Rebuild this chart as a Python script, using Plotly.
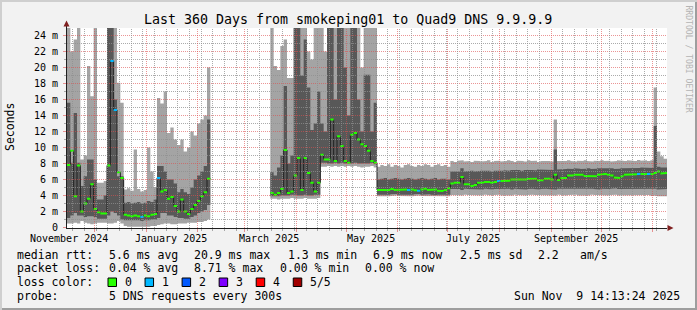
import math
import pandas as pd
import plotly.graph_objects as go

# ---------------- time frame ----------------
START = pd.Timestamp("2024-11-14 14:13:24")
END = pd.Timestamp("2025-11-09 14:13:24")
SLOT_DAYS = 2  # each value below covers 2 days

# ---------------- data (milliseconds) ----------------
# Region 1: Nov 2024 - Feb 2025 (slots 0..42)
R1_FIRST = 0
r1_min = [0.5, 0.5, 0.6, 0.5, 0.8, 0.6, 0.5, 0.4, 0.5, 0.6,
          0.6, 0.6, 0.5, 0.5, 0.6, 0.8, 0.5, 0.2, 0.1, 0.1,
          0.1, 0.1, 0.1, 0.1, 0.1, 0.2, 0.2, 0.3, 0.4, 0.5,
          0.5, 0.4, 0.4, 0.5, 0.5, 0.5, 0.6, 0.6, 0.6, 0.7,
          0.7, 0.8, 1.0]
r1_p2 = [1.2, 1.5, 1.8, 1.5, 1.5, 1.3, 1.4, 1.4, 1.3, 1.1,
         1.1, 1.1, 1.5, 2.0, 1.8, 1.5, 1.0, 0.9, 0.9, 0.9,
         0.9, 0.9, 0.8, 0.9, 0.9, 1.0, 1.0, 1.2, 1.8, 1.8,
         1.5, 1.5, 1.3, 1.2, 1.2, 1.1, 1.1, 1.3, 1.5, 1.8,
         2.0, 2.2, 2.8]
r1_p4 = [15.6, 8.1, 14.3, 8.1, 5.2, 6.4, 8.5, 8.5, 6.0, 3.5,
         3.5, 4.0, 26, 26, 16.0, 6.4, 6.4, 3.1, 3.2, 3.0,
         3.1, 3.2, 3.0, 3.1, 3.3, 3.2, 3.5, 7.7, 7.7, 7.0,
         6.0, 6.0, 5.5, 4.4, 4.8, 4.4, 4.2, 5.0, 6.0, 6.5,
         7.0, 7.7, 13.5]
r1_max = [26, 22.0, 23.5, 26, 8.5, 9.0, 20.2, 16.4, 26, 5.6,
          5.6, 5.8, 26, 26, 26, 18.1, 15.6, 4.75, 4.9, 4.6,
          9.75, 4.8, 4.5, 4.7, 10.0, 7.0, 5.0, 16.2, 15.5, 17.0,
          11.8, 12.5, 11.0, 10.3, 11.0, 9.5, 10.0, 12.0, 11.5, 13.0,
          13.5, 14.0, 20.0]
r1_med = [7.8, 9.6, 3.9, 7.75, 2.0, 3.0, 3.6, 5.4, 2.3, 1.9,
          1.75, 1.75, 7.75, 20.8, 14.7, 6.9, 6.2, 1.6, 1.5, 1.4,
          1.5, 1.4, 1.3, 1.5, 1.4, 1.6, 1.7, 6.2, 4.5, 4.7,
          3.6, 3.8, 2.7, 2.0, 3.5, 2.0, 1.7, 2.3, 2.8, 3.3,
          3.9, 4.4, 6.1]
r1_loss = [0, 0, 0, 0, 0, 0, 0, 0, 0, 0,
           0, 0, 0, 1, 1, 0, 0, 0, 0, 0,
           0, 0, 1, 0, 0, 0, 0, 1, 0, 0,
           0, 0, 0, 0, 0, 0, 0, 0, 0, 0,
           0, 0, 0]

# Region 2a: mid Mar - early May 2025 (slots 61..92)
spring_min = [3.6, 3.6, 3.5, 3.6, 3.6, 3.6, 3.7, 3.6, 3.6, 3.6,
              3.7, 3.6, 3.6, 3.6, 3.7, 7.6, 7.6, 7.7, 7.6, 7.7,
              7.6, 7.7, 7.6, 7.7, 7.6, 7.7, 7.6, 7.5, 7.6, 7.6,
              7.7, 7.5]
spring_p2 = [3.9, 3.9, 3.9, 4.0, 4.0, 4.0, 4.1, 4.1, 4.0, 4.0,
             4.1, 4.0, 4.0, 4.1, 4.1, 8.1, 8.1, 8.0, 8.0, 8.1,
             8.0, 8.1, 8.0, 8.1, 8.0, 8.1, 8.0, 8.0, 8.0, 8.0,
             8.1, 7.9]
spring_p4 = [6.9, 6.5, 7.5, 9.0, 17.7, 8.0, 9.0, 26, 26, 19.0,
             23.5, 17.5, 12.2, 13.0, 17.0, 13.0, 12.0, 26, 26, 16.0,
             26, 26, 20.0, 14.0, 26, 26, 16.0, 12.0, 19.1, 19.1,
             12.0, 15.6]
spring_max = [26, 20.2, 19.7, 22.7, 23.5, 18.7, 18.7, 26, 26, 26,
              26, 22.0, 21.0, 26, 26, 26, 22.0, 26, 26, 26,
              26, 26, 26, 26, 26, 26, 26, 20.0, 26, 26,
              26, 26]
spring_med = [4.3, 4.1, 4.3, 4.8, 9.7, 4.3, 4.5, 6.5, 8.7, 4.7,
              8.7, 6.8, 5.6, 4.5, 5.6, 9.1, 8.5, 8.5, 13.5, 8.3,
              11.4, 10.2, 8.3, 8.1, 11.6, 11.8, 11.0, 10.4, 10.2, 9.6,
              8.3, 8.1]
spring_loss = [0, 0, 0, 0, 0, 0, 0, 0, 0, 0,
               0, 0, 0, 0, 0, 0, 0, 0, 0, 0,
               0, 0, 0, 0, 0, 0, 0, 0, 0, 0,
               0, 0]

# Region 2b: May - Jun 2025 (slots 93..114)
early_min = [3.9, 3.95, 3.95, 3.9, 3.95, 4.0, 3.95, 3.9, 3.95, 3.95,
             3.9, 3.95, 4.0, 3.95, 3.9, 3.95, 3.95, 3.9, 3.95, 3.9,
             3.95, 3.9]
early_p2 = [4.1, 4.15, 4.1, 4.1, 4.15, 4.2, 4.1, 4.1, 4.15, 4.1,
            4.1, 4.15, 4.2, 4.1, 4.1, 4.15, 4.1, 4.05, 4.1, 4.1,
            4.15, 4.1]
early_p4 = [6.0, 6.1, 6.2, 6.0, 6.1, 6.2, 6.1, 6.0, 6.1, 6.2,
            6.1, 6.0, 6.1, 6.2, 6.1, 6.0, 6.1, 6.2, 6.0, 6.1,
            6.1, 6.0]
early_max = [7.6, 7.8, 7.7, 7.9, 7.6, 7.8, 7.7, 7.5, 7.8, 7.9,
             7.7, 7.6, 7.8, 7.7, 7.9, 7.8, 7.6, 7.8, 7.9, 7.7,
             7.8, 7.6]
early_med = [4.7, 4.75, 4.7, 4.7, 4.8, 4.7, 4.75, 4.7, 4.75, 4.7,
             4.75, 4.65, 4.6, 4.75, 4.85, 4.7, 4.7, 4.75, 4.6, 4.55,
             4.7, 4.9]
early_loss = [0, 0, 0, 0, 0, 0, 0, 0, 0, 1,
              0, 0, 1, 0, 0, 0, 0, 0, 0, 0,
              0, 0]

# Region 2c: Jul - Nov 2025 (slots 115..179)
late_min = [4.05, 4.0, 4.05, 4.0, 4.1, 4.05, 4.0, 4.05, 4.05, 4.0,
            4.1, 4.05, 4.0, 4.05, 4.1, 4.0, 4.05, 4.05, 4.0, 4.1,
            4.05, 4.05, 4.0, 4.05, 4.1, 4.05, 4.0, 4.05, 4.05, 4.0,
            4.05, 4.0, 4.1, 4.05, 4.0, 4.05, 4.05, 4.1, 4.0, 4.05,
            4.05, 4.0, 4.1, 4.05, 4.0, 4.05, 4.05, 4.0, 4.05, 4.1,
            4.0, 4.05, 4.05, 4.0, 4.05, 4.0, 4.05, 4.05, 4.0, 4.05,
            3.95, 4.0, 3.9, 3.95, 3.9]
late_p2 = [4.8, 4.75, 4.8, 4.7, 4.85, 4.8, 4.75, 4.8, 4.8, 4.75,
           4.85, 4.8, 4.75, 4.8, 4.85, 4.8, 4.8, 4.85, 4.75, 4.85,
           4.8, 4.8, 4.75, 4.8, 4.85, 4.8, 4.75, 4.8, 4.85, 4.8,
           4.8, 4.75, 4.85, 4.8, 4.8, 4.85, 4.8, 4.85, 4.8, 4.8,
           4.85, 4.8, 4.85, 4.8, 4.75, 4.85, 4.8, 4.8, 4.85, 4.9,
           4.8, 4.85, 4.85, 4.8, 4.85, 4.8, 4.85, 4.85, 4.8, 4.85,
           4.8, 4.85, 4.75, 4.8, 4.8]
late_p4 = [7.0, 7.05, 7.0, 7.4, 7.0, 7.05, 7.1, 7.0, 7.05, 7.1,
           7.05, 7.1, 7.0, 7.1, 7.05, 7.1, 7.15, 7.1, 7.2, 7.15,
           7.2, 7.1, 7.2, 7.25, 7.2, 7.15, 7.25, 7.2, 7.2, 7.25,
           7.2, 9.75, 7.25, 7.3, 7.3, 7.35, 7.3, 7.4, 7.35, 7.3,
           7.35, 7.4, 7.3, 7.35, 7.4, 7.35, 7.4, 7.35, 7.4, 7.3,
           7.35, 7.4, 7.45, 7.4, 7.45, 7.4, 7.45, 7.5, 7.45, 7.5,
           7.45, 12.7, 7.6, 7.5, 7.5]
late_max = [8.3, 8.2, 8.35, 8.4, 8.25, 8.3, 8.2, 8.35, 8.3, 8.25,
            8.3, 8.4, 8.2, 8.3, 8.35, 8.25, 8.3, 8.4, 8.3, 8.2,
            8.35, 8.3, 8.25, 8.4, 8.3, 8.35, 8.2, 8.3, 8.35, 8.3,
            8.25, 13.5, 8.3, 8.35, 8.3, 8.4, 8.3, 8.25, 8.35, 8.3,
            8.4, 8.3, 8.25, 8.35, 8.3, 8.4, 8.3, 8.35, 8.25, 8.3,
            8.4, 8.35, 8.3, 8.4, 8.35, 8.3, 8.45, 8.35, 8.4, 8.3,
            8.4, 17.5, 9.5, 8.9, 8.6]
late_med = [5.5, 5.6, 5.6, 6.3, 5.4, 5.4, 5.2, 5.3, 5.6, 5.6,
            5.7, 5.7, 5.6, 5.7, 5.8, 5.8, 5.8, 5.85, 6.0, 5.95,
            5.95, 6.0, 6.0, 6.05, 6.1, 6.1, 5.9, 5.9, 6.1, 6.1,
            6.0, 6.6, 5.95, 6.2, 6.2, 6.5, 6.5, 6.6, 6.6, 6.6,
            6.45, 6.4, 6.4, 6.4, 6.6, 6.65, 6.7, 6.6, 6.5, 6.25,
            6.2, 6.4, 6.6, 6.65, 6.65, 6.65, 6.7, 6.7, 6.7, 6.7,
            6.7, 6.8, 7.0, 6.75, 6.8]
late_loss = [0, 0, 0, 0, 0, 0, 0, 0, 0, 0,
             0, 0, 0, 0, 1, 0, 0, 0, 0, 0,
             0, 0, 0, 0, 0, 0, 0, 0, 0, 0,
             0, 0, 0, 0, 0, 0, 0, 0, 0, 0,
             0, 0, 0, 0, 0, 0, 0, 0, 0, 0,
             0, 0, 0, 0, 0, 0, 1, 0, 0, 1,
             0, 0, 0, 0, 0]

R2_FIRST = 61

# ---------------- labels ----------------
TITLE = "Last 360 Days from smokeping01 to Quad9 DNS 9.9.9.9"
Y_TICKS = list(range(0, 25, 2))
Y_TICK_TEXT = ["0"] + [f"{v} m" for v in range(2, 25, 2)]
X_LABEL_MONTHS = ["2024-11-01", "2025-01-01", "2025-03-01", "2025-05-01", "2025-07-01", "2025-09-01"]
X_LABEL_TEXT = ["November 2024", "January 2025", "March 2025", "May 2025", "July 2025", "September 2025"]
LOSS_COLORS = ["#26ff00", "#00b8ff", "#0059ff", "#7e00ff", "#ff0000", "#a10000"]
LOSS_LABELS = ["0", "1", "2", "3", "4", "5/5"]

STATS_RTT = ["5.6 ms avg", "20.9 ms max", "1.3 ms min", "6.9 ms now", "2.5 ms sd", "2.2", "am/s"]
STATS_LOSS = ["0.04 % avg", "8.71 % max", "0.00 % min", "0.00 % now"]
PROBE = "5 DNS requests every 300s"
STAMP = "Sun Nov  9 14:13:24 2025"

# ---------------- geometry / style ----------------
W, H = 697, 310
L, T, PW, PH = 67, 28, 600, 200
YMAX = 25.0
Y_OFF = YMAX / PH / 2.0
FONT = "DejaVu Sans Mono"
BG = "#f2f2f2"
GRID_C = "rgba(143,143,143,0.75)"
MGRID_C = "rgba(222,79,79,0.6)"
ARROW_C = "#802020"
AXIS_C = "#1f1f1f"
SMOKE_LIGHT = "#a4a4a4"
SMOKE_DARK = "#585858"
MED_LINE = "#202020"
SWIDTH = YMAX / PH  # 1 px


def px(x):
    return (x - L) / PW


def py(y):
    return (T + PH - y) / PH


SPAN = END - START


def ts(t):
    return t.strftime("%Y-%m-%d %H:%M:%S.%f")[:-3]


def slot_t(i):
    return START + pd.Timedelta(days=SLOT_DAYS * i)


def snap(t):
    p = L + PW * ((t - START) / SPAN)
    p = math.floor(p) + 0.5
    return START + SPAN * ((p - L) / PW)


regions = [
    dict(first=R1_FIRST, mn=r1_min, p2=r1_p2, p4=r1_p4, mx=r1_max, med=r1_med, loss=r1_loss),
    dict(first=R2_FIRST,
         mn=spring_min + early_min + late_min,
         p2=spring_p2 + early_p2 + late_p2,
         p4=spring_p4 + early_p4 + late_p4,
         mx=spring_max + early_max + late_max,
         med=spring_med + early_med + late_med,
         loss=spring_loss + early_loss + late_loss),
]
for r in regions:
    n = len(r["mn"])
    for key in ("p2", "p4", "mx", "med", "loss"):
        assert len(r[key]) == n, (key, len(r[key]), n)


def ribbon(first, ks, lo, hi):
    xs, ys = [], []
    for k in ks:
        xs += [ts(slot_t(first + k)), ts(slot_t(first + k + 1))]
        ys += [hi[k], hi[k]]
    for k in reversed(ks):
        xs += [ts(slot_t(first + k + 1)), ts(slot_t(first + k))]
        ys += [lo[k], lo[k]]
    return xs + [None], ys + [None]


def consecutive(ks):
    out, cur = [], []
    for k in ks:
        if cur and k != cur[-1] + 1:
            out.append(cur)
            cur = []
        cur.append(k)
    if cur:
        out.append(cur)
    return out


fig = go.Figure()


def add_fill(xs, ys, color):
    fig.add_trace(go.Scatter(x=xs, y=ys, mode="lines", fill="toself", fillcolor=color,
                             line=dict(width=0), hoverinfo="skip", showlegend=False))


# smoke
for lo_key, hi_key, col in (("mn", "mx", SMOKE_LIGHT), ("p2", "p4", SMOKE_DARK)):
    X, Y = [], []
    for r in regions:
        xs, ys = ribbon(r["first"], list(range(len(r["mn"]))), r[lo_key], r[hi_key])
        X += xs
        Y += ys
    add_fill(X, Y, col)

# median line
X, Y = [], []
for r in regions:
    for k, m in enumerate(r["med"]):
        X += [ts(slot_t(r["first"] + k)), ts(slot_t(r["first"] + k + 1))]
        Y += [m, m]
    X.append(None)
    Y.append(None)
fig.add_trace(go.Scatter(x=X, y=Y, mode="lines", line=dict(color=MED_LINE, width=1),
                         connectgaps=False, hoverinfo="skip", showlegend=False))

# loss coloured median bars
for c, col in enumerate(LOSS_COLORS):
    X, Y = [], []
    for r in regions:
        ks = [k for k, l in enumerate(r["loss"]) if l == c]
        lo = [m - SWIDTH for m in r["med"]]
        hi = [m + SWIDTH for m in r["med"]]
        for run in consecutive(ks):
            xs, ys = ribbon(r["first"], run, lo, hi)
            X += xs
            Y += ys
    if X:
        add_fill(X, Y, col)

shapes = []
# horizontal grid
for v in range(1, 25):
    shapes.append(dict(type="line", xref="paper", yref="y", x0=0, x1=1, y0=v, y1=v,
                       line=dict(color=MGRID_C if v % 2 == 0 else GRID_C, width=1, dash="1px,1px"),
                       layer="above"))
# vertical grid
month_starts = [d for d in pd.date_range("2024-12-01", "2025-11-01", freq="MS")]
major_x = [snap(d) for d in month_starts]
mondays = [d for d in pd.date_range("2024-11-18", "2025-11-08", freq="W-MON") if d.day != 1]
minor_x = [snap(d) for d in mondays]
for t in minor_x:
    shapes.append(dict(type="line", xref="x", yref="paper", x0=ts(t), x1=ts(t), y0=0, y1=1,
                       line=dict(color=GRID_C, width=1, dash="1px,1px"), layer="above"))
for t in major_x:
    shapes.append(dict(type="line", xref="x", yref="paper", x0=ts(t), x1=ts(t), y0=0, y1=1,
                       line=dict(color=MGRID_C, width=1, dash="1px,1px"), layer="above"))

# axis extension + arrows
shapes.append(dict(type="line", xref="paper", yref="paper", x0=px(66.5), x1=px(66.5), y0=py(28), y1=py(25.5),
                   line=dict(color=AXIS_C, width=1), layer="above"))
shapes.append(dict(type="path", xref="paper", yref="paper",
                   path=f"M {px(63.5)},{py(26.5)} L {px(69.5)},{py(26.5)} L {px(66.5)},{py(20.5)} Z",
                   fillcolor=ARROW_C, line=dict(width=0), layer="above"))
shapes.append(dict(type="path", xref="paper", yref="paper",
                   path=f"M {px(667.5)},{py(225)} L {px(667.5)},{py(231)} L {px(673.5)},{py(228)} Z",
                   fillcolor=ARROW_C, line=dict(width=0), layer="above"))

# frame shading
shapes.append(dict(type="rect", xref="paper", yref="paper", x0=px(0), x1=px(697), y0=py(0), y1=py(2),
                   fillcolor="#cfcfcf", line=dict(width=0), layer="above"))
shapes.append(dict(type="rect", xref="paper", yref="paper", x0=px(0), x1=px(2), y0=py(0), y1=py(310),
                   fillcolor="#cfcfcf", line=dict(width=0), layer="above"))
shapes.append(dict(type="rect", xref="paper", yref="paper", x0=px(2), x1=px(697), y0=py(308), y1=py(310),
                   fillcolor="#9e9e9e", line=dict(width=0), layer="above"))
shapes.append(dict(type="rect", xref="paper", yref="paper", x0=px(695), x1=px(697), y0=py(2), y1=py(310),
                   fillcolor="#9e9e9e", line=dict(width=0), layer="above"))

annotations = []


def text(x, y, s, size=11.5, xanchor="left", color="#000000", angle=0):
    annotations.append(dict(xref="paper", yref="paper", x=px(x), y=py(y), text=s.replace(" ", "\u00a0"),
                            showarrow=False, xanchor=xanchor, yanchor="middle", borderpad=0,
                            textangle=angle, font=dict(family=FONT, size=size, color=color)))


text(347.5, 19.4, TITLE, size=13.3, xanchor="center")
text(10, 127, "Seconds", size=11.5, xanchor="center", angle=-90)
text(688, 58.5, "RRDTOOL / TOBI OETIKER", size=8.1, xanchor="center", color="#b4b4b4", angle=90)

# month labels (centred mid-month)
for m, lab in zip(X_LABEL_MONTHS, X_LABEL_TEXT):
    t = pd.Timestamp(m) + pd.Timedelta(days=15)
    annotations.append(dict(xref="x", yref="paper", x=ts(t), y=py(238.3), text=lab.replace(" ", "\u00a0"),
                            showarrow=False, xanchor="center", yanchor="middle", borderpad=0,
                            font=dict(family=FONT, size=10, color="#000000")))

# legend rows
row_y = [254.5, 268.3, 282.1, 296.0]
text(16, row_y[0], "median rtt:")
for s, x in zip(STATS_RTT, [107.6, 193.3, 286.7, 372.4, 458.7, 536.9, 579.0]):
    text(x, row_y[0], s)
text(16, row_y[1], "packet loss:")
for s, x in zip(STATS_LOSS, [107.6, 193.3, 279.0, 364.4]):
    text(x, row_y[1], s)
text(16, row_y[2], "loss color:")
for k, (lab, col) in enumerate(zip(LOSS_LABELS, LOSS_COLORS)):
    bx = 108.0 + 37.05 * k
    shapes.append(dict(type="rect", xref="paper", yref="paper", x0=px(bx), x1=px(bx + 8.5),
                       y0=py(286.5), y1=py(278.0), fillcolor=col, line=dict(color="#000000", width=1),
                       layer="above"))
    text(bx + 15.6, row_y[2], lab)
text(16, row_y[3], "probe:")
text(107.6, row_y[3], PROBE)
text(680.5, row_y[3], STAMP, xanchor="right")

fig.update_layout(
    width=W, height=H, autosize=False,
    margin=dict(l=L, r=W - L - PW, t=T, b=H - T - PH, pad=0),
    paper_bgcolor=BG, plot_bgcolor="#ffffff",
    showlegend=False, shapes=shapes, annotations=annotations,
    font=dict(family=FONT, color="#000000"),
    xaxis=dict(type="date", range=[ts(START), ts(END)], showgrid=False, zeroline=False,
               showline=True, linecolor=AXIS_C, linewidth=1,
               tickmode="array", tickvals=[ts(t) for t in major_x], showticklabels=False,
               ticks="outside", ticklen=3, tickcolor=MGRID_C, tickwidth=1,
               minor=dict(tickmode="array", tickvals=[ts(t) for t in minor_x], ticks="outside",
                          ticklen=2, tickcolor=GRID_C, tickwidth=1, showgrid=False),
               fixedrange=True),
    yaxis=dict(range=[-Y_OFF, YMAX - Y_OFF], showgrid=False, zeroline=False,
               showline=True, linecolor=AXIS_C, linewidth=1,
               tickmode="array", tickvals=Y_TICKS, ticktext=Y_TICK_TEXT,
               ticks="outside", ticklen=3, tickcolor=MGRID_C, tickwidth=1,
               tickfont=dict(family=FONT, size=10, color="#000000"), ticklabelstandoff=3,
               minor=dict(tickmode="array", tickvals=list(range(1, 25, 2)), ticks="outside",
                          ticklen=2, tickcolor=GRID_C, tickwidth=1, showgrid=False),
               fixedrange=True),
)

fig.write_html("out.html", config={"displayModeBar": False})
